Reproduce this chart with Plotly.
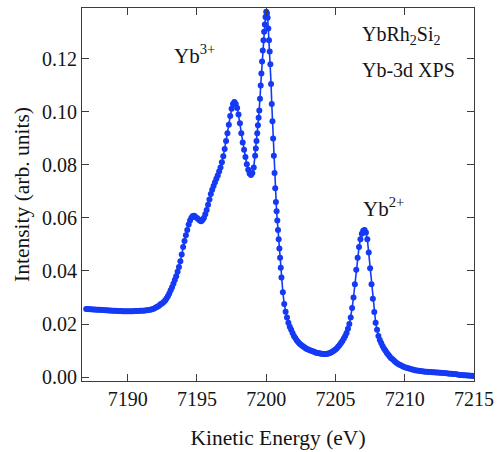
import plotly.graph_objects as go

energy = [
    7187.000, 7187.125, 7187.250, 7187.375, 7187.500, 7187.625, 7187.750, 7187.875, 7188.000, 7188.125,
    7188.250, 7188.375, 7188.500, 7188.625, 7188.750, 7188.875, 7189.000, 7189.125, 7189.250, 7189.375,
    7189.500, 7189.625, 7189.750, 7189.875, 7190.000, 7190.125, 7190.250, 7190.375, 7190.500, 7190.625,
    7190.750, 7190.875, 7191.000, 7191.125, 7191.250, 7191.375, 7191.500, 7191.625, 7191.750, 7191.875,
    7192.0, 7192.1, 7192.2, 7192.3, 7192.4, 7192.5, 7192.6, 7192.7, 7192.8, 7192.9,
    7193.0, 7193.1, 7193.2, 7193.3, 7193.4, 7193.5, 7193.6, 7193.7, 7193.8, 7193.9,
    7194.0, 7194.1, 7194.2, 7194.3, 7194.4, 7194.5, 7194.6, 7194.7, 7194.8, 7194.9,
    7195.0, 7195.1, 7195.2, 7195.3, 7195.4, 7195.5, 7195.6, 7195.7, 7195.8, 7195.9,
    7196.0, 7196.1, 7196.2, 7196.3, 7196.4, 7196.5, 7196.6, 7196.7, 7196.8, 7196.9,
    7197.0, 7197.1, 7197.2, 7197.3, 7197.4, 7197.5, 7197.6, 7197.7, 7197.8, 7197.9,
    7198.0, 7198.1, 7198.2, 7198.3, 7198.4, 7198.5, 7198.6, 7198.7, 7198.8, 7198.9,
    7199.0, 7199.1, 7199.2, 7199.25, 7199.3, 7199.35, 7199.4, 7199.45, 7199.5, 7199.55,
    7199.6, 7199.65, 7199.7, 7199.75, 7199.8, 7199.85, 7199.9, 7199.95, 7200.0, 7200.05,
    7200.1, 7200.15, 7200.2, 7200.25, 7200.3, 7200.35, 7200.4, 7200.45, 7200.5, 7200.55,
    7200.6, 7200.65, 7200.7, 7200.75, 7200.8, 7200.85, 7200.9, 7200.95, 7201.0, 7201.05,
    7201.1, 7201.2, 7201.3, 7201.4, 7201.5, 7201.6, 7201.7, 7201.8, 7201.9, 7202.0,
    7202.1, 7202.2, 7202.3, 7202.4, 7202.5, 7202.6, 7202.7, 7202.8, 7202.9, 7203.0,
    7203.1, 7203.2, 7203.3, 7203.4, 7203.5, 7203.6, 7203.7, 7203.8, 7203.9, 7204.0,
    7204.1, 7204.2, 7204.3, 7204.4, 7204.5, 7204.6, 7204.7, 7204.8, 7204.9, 7205.0,
    7205.1, 7205.2, 7205.3, 7205.4, 7205.5, 7205.6, 7205.7, 7205.8, 7205.9, 7206.0,
    7206.1, 7206.2, 7206.3, 7206.4, 7206.5, 7206.6, 7206.7, 7206.8, 7206.9, 7207.0,
    7207.1, 7207.2, 7207.3, 7207.4, 7207.5, 7207.6, 7207.7, 7207.8, 7207.9, 7208.0,
    7208.1, 7208.2, 7208.3, 7208.4, 7208.5, 7208.6, 7208.7, 7208.8, 7208.9, 7209.0,
    7209.125, 7209.250, 7209.375, 7209.500, 7209.625, 7209.750, 7209.875, 7210.000, 7210.125, 7210.250,
    7210.375, 7210.500, 7210.625, 7210.750, 7210.875, 7211.000, 7211.125, 7211.250, 7211.375, 7211.500,
    7211.625, 7211.750, 7211.875, 7212.000, 7212.125, 7212.250, 7212.375, 7212.500, 7212.625, 7212.750,
    7212.875, 7213.000, 7213.125, 7213.250, 7213.375, 7213.500, 7213.625, 7213.750, 7213.875, 7214.000,
    7214.125, 7214.250, 7214.375, 7214.500, 7214.625, 7214.750, 7214.875, 7215.000,
]

intensity = [
    0.0257, 0.0257, 0.0256, 0.0256, 0.0255, 0.0255, 0.0254, 0.0254, 0.0254, 0.0253,
    0.0253, 0.0252, 0.0252, 0.0251, 0.0251, 0.0250, 0.0250, 0.0250, 0.0249, 0.0249,
    0.0249, 0.0248, 0.0248, 0.0248, 0.0248, 0.0248, 0.0248, 0.0248, 0.0249, 0.0249,
    0.0249, 0.0250, 0.0250, 0.0250, 0.0251, 0.0252, 0.0253, 0.0254, 0.0256, 0.0258,
    0.0261, 0.0264, 0.0267, 0.0271, 0.0275, 0.0278, 0.0283, 0.0289, 0.0296, 0.0305,
    0.0315, 0.0327, 0.0339, 0.0352, 0.0366, 0.0380, 0.0397, 0.0415, 0.0437, 0.0462,
    0.0490, 0.0513, 0.0535, 0.0555, 0.0575, 0.0590, 0.0601, 0.0607, 0.0608, 0.0604,
    0.0600, 0.0595, 0.0590, 0.0588, 0.0592, 0.0600, 0.0614, 0.0630, 0.0650, 0.0670,
    0.0690, 0.0706, 0.0721, 0.0735, 0.0748, 0.0760, 0.0775, 0.0790, 0.0810, 0.0833,
    0.0860, 0.0890, 0.0920, 0.0952, 0.0985, 0.1012, 0.1030, 0.1037, 0.1030, 0.1015,
    0.0990, 0.0957, 0.0920, 0.0885, 0.0857, 0.0830, 0.0803, 0.0782, 0.0768, 0.0762,
    0.0770, 0.0790, 0.0835, 0.0862, 0.0890, 0.0920, 0.0950, 0.0978, 0.1005, 0.1050,
    0.1100, 0.1145, 0.1190, 0.1232, 0.1270, 0.1302, 0.1330, 0.1358, 0.1378, 0.1372,
    0.1355, 0.1315, 0.1270, 0.1228, 0.1180, 0.1105, 0.1030, 0.0965, 0.0900, 0.0835,
    0.0770, 0.0712, 0.0660, 0.0625, 0.0590, 0.0555, 0.0520, 0.0485, 0.0450, 0.0412,
    0.0375, 0.0320, 0.0275, 0.0246, 0.0225, 0.0205, 0.0190, 0.0178, 0.0166, 0.0155,
    0.0147, 0.0139, 0.0132, 0.0126, 0.0122, 0.0118, 0.0114, 0.0110, 0.0107, 0.0105,
    0.0102, 0.0100, 0.0098, 0.0096, 0.0094, 0.0092, 0.0091, 0.0090, 0.0089, 0.0088,
    0.0087, 0.0087, 0.0087, 0.0088, 0.0089, 0.0091, 0.0093, 0.0096, 0.0100, 0.0104,
    0.0109, 0.0115, 0.0121, 0.0128, 0.0136, 0.0145, 0.0155, 0.0166, 0.0182, 0.0200,
    0.0225, 0.0260, 0.0300, 0.0350, 0.0405, 0.0450, 0.0490, 0.0520, 0.0540, 0.0552,
    0.0555, 0.0545, 0.0520, 0.0470, 0.0410, 0.0350, 0.0295, 0.0245, 0.0205, 0.0178,
    0.0155, 0.0140, 0.0128, 0.0117, 0.0108, 0.0100, 0.0092, 0.0085, 0.0078, 0.0072,
    0.0067, 0.0060, 0.0055, 0.0050, 0.0046, 0.0043, 0.0040, 0.0037, 0.0035, 0.0033,
    0.0031, 0.0029, 0.0027, 0.0026, 0.0025, 0.0024, 0.0023, 0.0022, 0.0021, 0.0020,
    0.0020, 0.0019, 0.0019, 0.0018, 0.0018, 0.0017, 0.0017, 0.0016, 0.0016, 0.0015,
    0.0015, 0.0014, 0.0013, 0.0012, 0.0012, 0.0011, 0.0011, 0.0010, 0.0009, 0.0008,
    0.0008, 0.0007, 0.0007, 0.0006, 0.0006, 0.0005, 0.0005, 0.0004,
]

x_ticks = [7190, 7195, 7200, 7205, 7210, 7215]
y_ticks = [0.00, 0.02, 0.04, 0.06, 0.08, 0.10, 0.12]
y_tick_labels = ["0.00", "0.02", "0.04", "0.06", "0.08", "0.10", "0.12"]

n = min(len(energy), len(intensity))
energy = energy[:n]
intensity = intensity[:n]

blue = "rgb(20,58,245)"
axis_col = "rgb(60,60,60)"
text_col = "rgb(20,20,20)"
font_family = "Liberation Serif"

fig = go.Figure()
fig.add_trace(go.Scatter(
    x=energy, y=intensity, mode="lines+markers",
    line=dict(color=blue, width=1.6),
    marker=dict(color=blue, size=6),
    showlegend=False,
))

axis_common = dict(
    showgrid=False, zeroline=False, showline=True, linecolor=axis_col, linewidth=1,
    mirror="ticks", ticks="inside", ticklen=7, tickwidth=1, tickcolor=axis_col,
    tickfont=dict(family=font_family, size=20, color=text_col),
)

fig.update_layout(
    width=501, height=452,
    margin=dict(l=82, r=22, t=7, b=71),
    paper_bgcolor="white", plot_bgcolor="white",
    font=dict(family=font_family, size=20, color=text_col),
    xaxis=dict(range=[7186.7, 7215.0], tickvals=x_ticks,
               title=dict(text="Kinetic Energy (eV)", standoff=20,
                          font=dict(family=font_family, size=21.5, color=text_col)),
               **axis_common),
    yaxis=dict(range=[-0.0015, 0.1392], tickvals=y_ticks, ticktext=y_tick_labels,
               title=dict(text="Intensity (arb. units)", standoff=6,
                          font=dict(family=font_family, size=21.5, color=text_col)),
               **axis_common),
)

ann_font = dict(family=font_family, size=21, color=text_col)
fig.add_annotation(x=7194.85, y=0.1215, text="Yb<sup>3+</sup>", showarrow=False,
                   font=ann_font, xanchor="center", yanchor="middle")
fig.add_annotation(x=7208.45, y=0.0640, text="Yb<sup>2+</sup>", showarrow=False,
                   font=ann_font, xanchor="center", yanchor="middle")
fig.add_annotation(x=7206.8, y=0.1290, text="YbRh<sub>2</sub>Si<sub>2</sub>", showarrow=False,
                   font=dict(family=font_family, size=20, color=text_col),
                   xanchor="left", yanchor="middle")
fig.add_annotation(x=7206.8, y=0.1158, text="Yb-3d XPS", showarrow=False,
                   font=dict(family=font_family, size=20, color=text_col),
                   xanchor="left", yanchor="middle")

fig.write_html("out.html")
